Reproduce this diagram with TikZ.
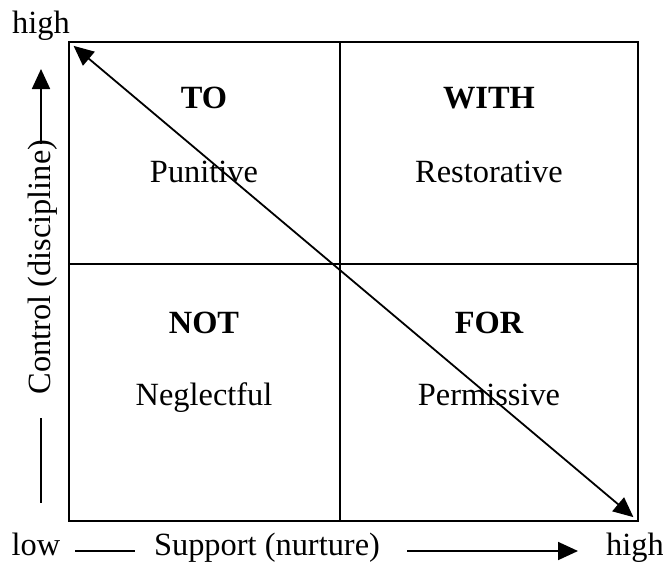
\documentclass[tikz,border=0pt]{standalone}
\usepackage{fontspec}
\setmainfont{Liberation Serif}
\usetikzlibrary{arrows.meta}
\begin{document}
\begin{tikzpicture}[x=0.5pt,y=-0.5pt,
    font=\fontsize{16.2}{19}\selectfont,
    txt/.style={anchor=base,inner sep=0pt},
    title/.style={txt,font=\fontsize{16.2}{19}\selectfont\bfseries},
    tip/.style={-{Triangle[length=10pt,width=9pt]}},
    line width=0.9pt]
  \useasboundingbox (0,0) rectangle (663,562);
  % grid
  \coordinate (nw) at (69,42);
  \coordinate (se) at (638,521);
  \coordinate (n) at (340,42);
  \coordinate (s) at (340,521);
  \coordinate (w) at (69,264);
  \coordinate (e) at (638,264);
  \draw[line width=1.1pt] (nw) rectangle (se);
  \draw (n) -- (s);
  \draw (w) -- (e);
  % quadrants
  \node[title] (to) at (204,108) {TO};
  \node[txt] (punitive) at (204,182) {Punitive};
  \node[title] (with) at (489,108) {WITH};
  \node[txt] (restorative) at (489,182) {Restorative};
  \node[title] (not) at (204,333) {NOT};
  \node[txt] (neglectful) at (204,405) {Neglectful};
  \node[title] (for) at (489,333) {FOR};
  \node[txt] (permissive) at (489,405) {Permissive};
  % diagonal
  \draw[{Triangle[length=10pt,width=9pt]}-{Triangle[length=10pt,width=9pt]},
    shorten <=3pt, shorten >=3pt] (nw) -- (se);
  % control axis
  \node[txt] (hightop) at (41,33) {high};
  \node[txt,rotate=90] (control) at (50,267) {Control (discipline)};
  \coordinate (cup) at (41,144);
  \coordinate (ctip) at (41,69);
  \coordinate (clow) at (41,418);
  \coordinate (cend) at (41,503);
  \draw[tip] (cup) -- (ctip);
  \draw (clow) -- (cend);
  % support axis
  \node[txt] (low) at (36,555) {low};
  \node[txt] (support) at (267,555) {Support (nurture)};
  \node[txt] (highright) at (635,555) {high};
  \coordinate (sa) at (75,551);
  \coordinate (sb) at (135,551);
  \coordinate (sc) at (407,551);
  \coordinate (sd) at (578,551);
  \draw (sa) -- (sb);
  \draw[tip] (sc) -- (sd);
\end{tikzpicture}
\end{document}
